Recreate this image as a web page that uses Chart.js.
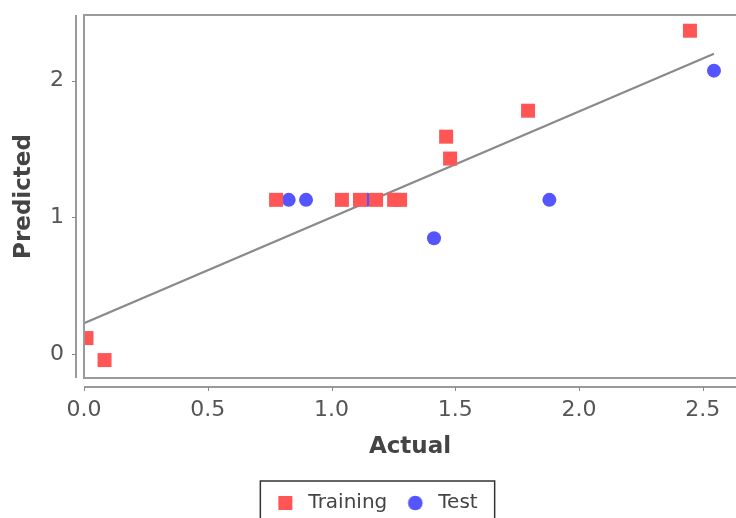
<!DOCTYPE html>
<html lang="en">
<head>
<meta charset="UTF-8">
<title>Actual vs Predicted</title>
<script src="https://cdn.jsdelivr.net/npm/chart.js"></script>
<style>
  html, body { margin: 0; padding: 0; background: #fff; }
  canvas { display: block; }
</style>
</head>
<body>
<canvas id="scatterChart" width="736" height="518"></canvas>
<script>
// values
const trainActual    = [0.01, 0.083, 0.776, 1.042, 1.115, 1.18, 1.253, 1.277, 1.463, 1.479, 1.794, 2.448];
const trainPredicted = [0.117, -0.044, 1.128, 1.128, 1.128, 1.128, 1.128, 1.128, 1.59, 1.43, 1.78, 2.365];
const testActual     = [0.827, 0.897, 1.144, 1.414, 1.88, 2.545];
const testPredicted  = [1.128, 1.128, 1.128, 0.847, 1.128, 2.073];
const fitActual      = [0, 2.545];
const fitPredicted   = [0.226, 2.197];
const xTicks = [0, 0.5, 1, 1.5, 2, 2.5];
const yTicks = [0, 1, 2];

const toPoints = (xs, ys) => xs.map((v, i) => ({x: v, y: ys[i]}));

Chart.defaults.font.family = "'DejaVu Sans', sans-serif";

// little marker images for the legend
function legendMarker(kind, color) {
    const c = document.createElement('canvas');
    c.width = 40; c.height = 20;
    const g = c.getContext('2d');
    g.fillStyle = color;
    if (kind === 'rect') {
        g.fillRect(20, 3, 14, 14);
    } else {
        g.beginPath();
        g.arc(27, 10, 7.3, 0, Math.PI * 2);
        g.fill();
    }
    return c;
}
const markers = {
    'Training': legendMarker('rect', '#ff5555'),
    'Test': legendMarker('circle', '#5555ff')
};

// no extra padding from tick labels, the plot box is fixed
function noPadding(s) {
    s.paddingTop = 0;
    s.paddingBottom = 0;
    s.paddingLeft = 0;
    s.paddingRight = 0;
}

// JFreeChart-like outline, offset axis lines, ticks and legend frame
const axisLines = {
    id: 'axisLines',
    afterDraw(chart) {
        const {ctx, chartArea: a, scales: {x, y}} = chart;
        ctx.save();
        ctx.strokeStyle = '#9a9a9a';
        ctx.lineWidth = 2;
        ctx.beginPath();
        ctx.moveTo(a.right + 2, a.top);
        ctx.lineTo(a.left, a.top);
        ctx.lineTo(a.left, a.bottom);
        ctx.lineTo(a.right + 2, a.bottom);
        ctx.moveTo(a.left - 8, a.top);
        ctx.lineTo(a.left - 8, a.bottom);
        ctx.moveTo(a.left, a.bottom + 9);
        ctx.lineTo(a.right, a.bottom + 9);
        ctx.stroke();

        ctx.lineWidth = 1;
        ctx.strokeStyle = '#888';
        ctx.beginPath();
        y.ticks.forEach(t => {
            const py = Math.round(y.getPixelForValue(t.value)) + 0.5;
            ctx.moveTo(a.left - 12, py);
            ctx.lineTo(a.left - 8, py);
        });
        x.ticks.forEach(t => {
            const px = Math.round(x.getPixelForValue(t.value)) + 0.5;
            ctx.moveTo(px, a.bottom + 9);
            ctx.lineTo(px, a.bottom + 13);
        });
        ctx.stroke();

        const hb = chart.legend.legendHitBoxes;
        if (hb && hb.length) {
            const last = hb[hb.length - 1];
            const left = hb[0].left + 2;
            const right = last.left + last.width + 17;
            const top = hb[0].top - 12;
            ctx.strokeStyle = '#333';
            ctx.lineWidth = 1.5;
            ctx.strokeRect(left, top, right - left, 60);
        }
        ctx.restore();
    }
};

new Chart(document.getElementById('scatterChart'), {
    type: 'scatter',
    data: {
        datasets: [{
            label: 'Training',
            data: toPoints(trainActual, trainPredicted),
            pointStyle: 'rect',
            pointRadius: 9.9,
            pointHoverRadius: 9.9,
            borderWidth: 0,
            backgroundColor: '#ff5555',
            clip: 0
        }, {
            label: 'Test',
            data: toPoints(testActual, testPredicted),
            pointStyle: 'circle',
            pointRadius: 7,
            pointHoverRadius: 7,
            borderWidth: 0,
            backgroundColor: '#5555ff',
            clip: 0
        }, {
            type: 'line',
            label: 'Fit',
            data: toPoints(fitActual, fitPredicted),
            borderColor: '#8a8a8a',
            borderWidth: 2.2,
            pointRadius: 0,
            fill: false,
            clip: 0
        }]
    },
    options: {
        responsive: false,
        animation: false,
        layout: {
            autoPadding: false,
            padding: {top: 15, right: 0, left: 0, bottom: -5}
        },
        plugins: {
            tooltip: {enabled: false},
            legend: {
                position: 'bottom',
                labels: {
                    usePointStyle: true,
                    pointStyleWidth: 40,
                    padding: 1,
                    color: '#444',
                    font: {size: 20},
                    filter: item => item.text !== 'Fit',
                    generateLabels: chart => {
                        const items = Chart.defaults.plugins.legend.labels.generateLabels(chart);
                        items.forEach(it => { if (markers[it.text]) it.pointStyle = markers[it.text]; });
                        return items;
                    }
                }
            }
        },
        scales: {
            x: {
                type: 'linear',
                min: 0,
                max: 2.634,
                afterFit: s => { s.height = 114; noPadding(s); },
                afterBuildTicks: s => { s.ticks = xTicks.map(v => ({value: v})); },
                grid: {display: false, drawTicks: false},
                border: {display: false},
                ticks: {
                    includeBounds: false,
                    padding: 19,
                    color: '#555',
                    font: {size: 22},
                    maxRotation: 0,
                    callback: v => Number(v).toFixed(1)
                },
                title: {
                    display: true,
                    text: 'Actual',
                    color: '#444',
                    font: {size: 23, weight: 'bold'},
                    padding: {top: 0, bottom: 31}
                }
            },
            y: {
                type: 'linear',
                min: -0.175,
                max: 2.48,
                afterFit: s => { s.width = 84; noPadding(s); },
                afterBuildTicks: s => { s.ticks = yTicks.map(v => ({value: v})); },
                grid: {display: false, drawTicks: false},
                border: {display: false},
                ticks: {
                    includeBounds: false,
                    padding: 20,
                    color: '#555',
                    font: {size: 22}
                },
                title: {
                    display: true,
                    text: 'Predicted',
                    color: '#444',
                    font: {size: 23, weight: 'bold'},
                    padding: {top: 10, bottom: 0}
                }
            }
        }
    },
    plugins: [axisLines]
});
</script>
</body>
</html>
